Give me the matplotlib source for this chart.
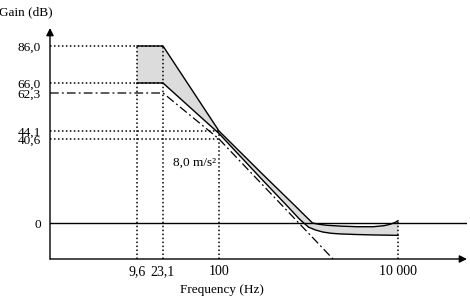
import numpy as np
import matplotlib
matplotlib.use("Agg")
import matplotlib.pyplot as plt

# === DATA ===
FREQ_TICKS = [9.6, 23.1, 100, 10000]
FREQ_LABELS = ["9,6", "23,1", "100", "10 000"]
GAIN_TICKS = [86.0, 66.0, 62.3, 44.1, 40.6, 0.0]
GAIN_LABELS = ["86,0", "66,0", "62,3", "44,1", "40,6", "0"]

# upper limit curve (Hz, dB)
UPPER_F = [9.6, 23.1, 100, 300, 700, 1000, 1110, 1300, 1600, 2250, 3500, 5300, 7000, 8200, 9200, 10000]
UPPER_DB = [86.0, 86.0, 44.1, 24.0, 8.5, 1.9, 0.0, -0.6, -1.1, -1.5, -1.8, -1.8, -1.3, -0.6, 0.2, 1.1]

# lower limit curve (Hz, dB)
LOWER_F = [9.6, 23.1, 100, 300, 600, 800, 1000, 1200, 1450, 1800, 2250, 3500, 5300, 7500, 10000]
LOWER_DB = [66.0, 66.0, 43.0, 21.2, 7.5, 1.7, -2.0, -3.4, -4.4, -5.0, -5.3, -5.6, -5.8, -5.9, -6.0]

# 8,0 m/s2 reference (dash-dot)
REF_F = [23.1, 100, 1880]
REF_DB = [62.3, 40.6, -17.5]
REF_LABEL = "8,0 m/s²"

# === LAYOUT ===
W, H = 470, 301
AX_LEFT, AX_RIGHT, AX_BOTTOM, AX_TOP = 50, 467, 259, 28   # pixels

# schematic (distorted log) frequency axis: log10(f) -> pixel
LOGS = [-3.0, np.log10(9.6), np.log10(23.1), 2.0, 4.0, 8.0]
PX = [137 - 89.5 * (np.log10(9.6) + 3), 137, 163, 219, 398, 398 + 89.5 * 4]

# schematic gain axis: dB -> pixel row (from top)
DB_ANCH = [-60.0, 0.0, 40.6, 44.1, 62.3, 66.0, 86.0, 140.0]
ROW_ANCH = [223 + 60 * 2.06, 223, 139, 131, 93, 83, 46, 46 - 54 * 2.06]


def fwd(f):
    with np.errstate(divide="ignore", invalid="ignore"):
        lf = np.log10(np.clip(np.asarray(f, dtype=float), 1e-12, None))
    return np.interp(lf, LOGS, PX)


def inv(p):
    return 10 ** np.interp(np.asarray(p, dtype=float), PX, LOGS)


def yfwd(y):
    return np.interp(np.asarray(y, dtype=float), DB_ANCH, [-r for r in ROW_ANCH])


def yinv(r):
    return np.interp(np.asarray(r, dtype=float), [-r for r in ROW_ANCH], DB_ANCH)


plt.rcParams["font.family"] = ["Liberation Serif", "DejaVu Serif"]
plt.rcParams["font.size"] = 9.5

fig = plt.figure(figsize=(W / 100, H / 100), dpi=100)
ax = fig.add_axes([AX_LEFT / W, 1 - AX_BOTTOM / H,
                   (AX_RIGHT - AX_LEFT) / W, (AX_BOTTOM - AX_TOP) / H])
ax.set_xscale("function", functions=(fwd, inv))
ax.set_yscale("function", functions=(yfwd, yinv))
x_lo, x_hi = float(inv(AX_LEFT)), float(inv(AX_RIGHT))
y_lo, y_hi = float(yinv(-AX_BOTTOM)), float(yinv(-AX_TOP))
ax.set_xlim(x_lo, x_hi)
ax.set_ylim(y_lo, y_hi)
for s in ax.spines.values():
    s.set_visible(False)
ax.patch.set_alpha(0)

# grey tolerance band
band_x = list(UPPER_F) + list(LOWER_F[::-1])
band_y = list(UPPER_DB) + list(LOWER_DB[::-1])
ax.fill(band_x, band_y, color="#dcdcdc", lw=0, zorder=1)

dot = dict(color="k", lw=1.1, ls=(0, (1, 1.6)), zorder=2)
# dotted guides
ax.plot([x_lo, FREQ_TICKS[1]], [GAIN_TICKS[0]] * 2, **dot)
ax.plot([x_lo, FREQ_TICKS[1]], [GAIN_TICKS[1]] * 2, **dot)
ax.plot([x_lo, FREQ_TICKS[2]], [GAIN_TICKS[3]] * 2, **dot)
ax.plot([x_lo, FREQ_TICKS[2]], [GAIN_TICKS[4]] * 2, **dot)
ax.plot([FREQ_TICKS[0]] * 2, [y_lo, GAIN_TICKS[0]], **dot)
ax.plot([FREQ_TICKS[1]] * 2, [y_lo, GAIN_TICKS[0]], **dot)
ax.plot([FREQ_TICKS[2]] * 2, [y_lo, GAIN_TICKS[3]], **dot)
ax.plot([FREQ_TICKS[3]] * 2, [y_lo, UPPER_DB[-1]], **dot)

# 0 dB line
ax.axhline(0, color="k", lw=1.0, zorder=3)

# dash-dot reference
ax.plot([x_lo] + REF_F, [REF_DB[0]] + REF_DB, color="k", lw=0.9,
        ls=(0, (7, 2.5, 1.5, 2.5)), zorder=3)

# limit curves
ax.plot(UPPER_F, UPPER_DB, color="k", lw=1.0, zorder=4)
ax.plot(LOWER_F, LOWER_DB, color="k", lw=1.0, zorder=4)

ax.annotate(REF_LABEL, xy=(FREQ_TICKS[2], 29.2), xytext=(-2, 0),
            textcoords="offset points", ha="right", va="center")

# axes with arrows
arrow = dict(arrowstyle="-|>", color="k", lw=1.0, mutation_scale=11,
             shrinkA=0, shrinkB=0)
ax.annotate("", xy=(0, 1), xytext=(0, 0), xycoords="axes fraction", arrowprops=arrow)
ax.annotate("", xy=(1, 0), xytext=(0, 0), xycoords="axes fraction", arrowprops=arrow)

ax.set_xticks(FREQ_TICKS, labels=FREQ_LABELS)
ax.set_yticks(GAIN_TICKS, labels=GAIN_LABELS)
ax.minorticks_off()
ax.tick_params(axis="x", length=0, pad=4.5, labelsize=10)
ax.tick_params(axis="y", length=0, pad=6.5, labelsize=9.5)

fig.text(-1 / W, 1 - 12 / H, "Gain (dB)", ha="left", va="center")
fig.text(222 / W, 1 - 290 / H, "Frequency (Hz)", ha="center", va="center")

fig.savefig("out.png", dpi=100)
